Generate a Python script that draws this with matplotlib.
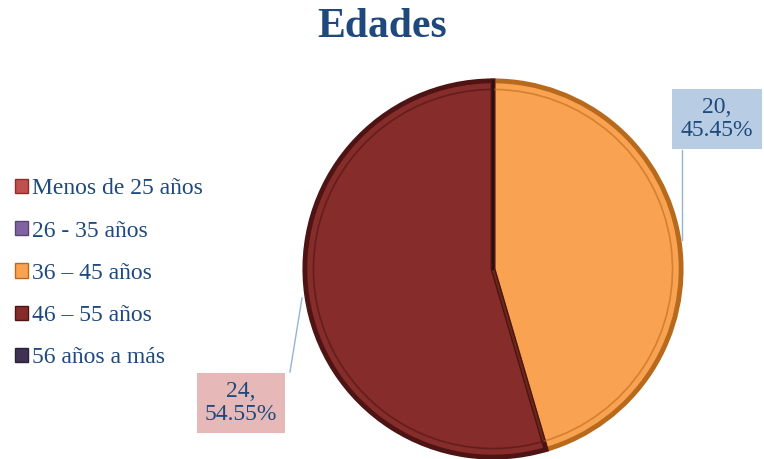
import matplotlib.pyplot as plt
from matplotlib.patches import Patch

# data
categorias = ["Menos de 25 años", "26 - 35 años", "36 – 45 años", "46 – 55 años", "56 años a más"]
cantidades = [0, 0, 20, 24, 0]
colores = ["#c0504d", "#8064a2", "#f9a252", "#862c2b", "#403152"]
bordes = ["#8c2f2c", "#5a4476", "#b86a1c", "#4e1414", "#2a2038"]

texto = "#1f497d"
plt.rcParams['font.family'] = ['Liberation Serif', 'DejaVu Serif']

W, H = 764, 459
fig = plt.figure(figsize=(W / 100, H / 100), dpi=100)

# pie geometry in pixels
cx, cy, r = 493, 269, 191
ax = fig.add_axes([(cx - r) / W, (H - cy - r) / H, 2 * r / W, 2 * r / H])

total = sum(cantidades)
idx = [i for i, v in enumerate(cantidades) if v > 0]
vals = [cantidades[i] for i in idx]
wedges, _ = ax.pie(vals, colors=[colores[i] for i in idx], startangle=90, counterclock=False,
                   radius=0.985)
for w, i in zip(wedges, idx):
    w.set_edgecolor(bordes[i])
    w.set_linewidth(3.5)
# inner bevel line
inner, _ = ax.pie(vals, colors=['none'] * len(vals), startangle=90, counterclock=False,
                  radius=0.94, wedgeprops=dict(linewidth=1.2, fill=False))
for w, i in zip(inner, idx):
    w.set_edgecolor(bordes[i])
    w.set_alpha(0.6)
ax.plot([0, 0], [0, 0.985], color="#2a1010", lw=1.5)
ax.set_xlim(-1, 1)
ax.set_ylim(-1, 1)
ax.set_aspect('equal')
ax.axis('off')

def px(x, y):
    return (x - cx) / r, (cy - y) / r

# data labels with leader lines
etiquetas = [f"{v},\n{v / total * 100:.2f}%" for v in vals]
cajas = {2: ("#b8cce4", (717, 119), [(682, 150), (682, 240)]),
         3: ("#e6b9b8", (241, 403), [(290, 372), (302, 298)])}
for lab, i in zip(etiquetas, idx):
    fc, pos, linea = cajas[i]
    (x0, y0), (x1, y1) = px(*linea[0]), px(*linea[1])
    ax.plot([x0, x1], [y0, y1], color="#95b3d7", lw=1, clip_on=False)
    tx, ty = px(*pos)
    ax.text(tx, ty, lab, ha='center', va='center', fontsize=17, color=texto,
            linespacing=1.15, clip_on=False,
            bbox=dict(boxstyle='square,pad=0.35', fc=fc, ec='none'))

fig.text(0.5, 1 - 27 / H, "Edades", ha='center', va='center', fontsize=30,
         fontweight='bold', color=texto)

handles = [Patch(facecolor=c, edgecolor=b, linewidth=1) for c, b in zip(colores, bordes)]
fig.legend(handles, categorias, loc='upper left', bbox_to_anchor=(6 / W, 1 - 169 / H),
           frameon=False, fontsize=17, labelcolor=texto, handlelength=0.55,
           handleheight=0.55, handletextpad=0.15, labelspacing=0.9, borderaxespad=0)

fig.savefig("out.png", dpi=100)
